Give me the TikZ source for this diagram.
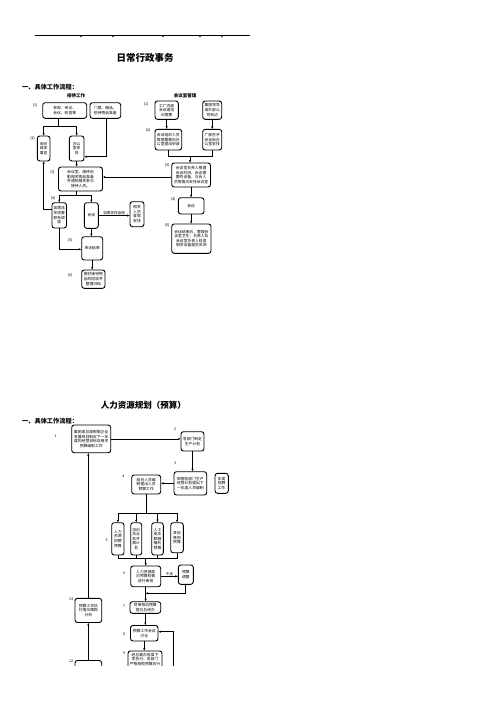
\documentclass[tikz,border=0pt]{standalone}
\usepackage{fontspec}
\newfontfamily\cjk{Noto Sans CJK SC}
\usetikzlibrary{arrows.meta,calc}
\tikzset{
  bx/.style={draw, line width=0.9pt, rounded corners=2.5pt, inner sep=0.3pt, align=center,
             font=\cjk\fontsize{3.8}{4.6}\selectfont},
  lab/.style={font=\cjk\fontsize{3.6}{4}\selectfont, inner sep=0.3pt},
  ttl/.style={font=\cjk\bfseries\fontsize{9.5}{10}\selectfont, inner sep=0},
  hdr/.style={font=\cjk\bfseries\fontsize{6.2}{7}\selectfont, inner sep=0, anchor=west},
  sub/.style={font=\cjk\bfseries\fontsize{4.5}{5}\selectfont, inner sep=0},
  ln/.style={line width=0.7pt},
  arr/.style={ln, -{Stealth[length=2.6pt,width=2.2pt]}},
}
\begin{document}
\begin{tikzpicture}[x=1pt,y=-1pt]
\useasboundingbox[fill=white] (0,0) rectangle (496,702);
\begin{scope}
\clip (0,0) rectangle (496,665);
% header rule
\draw[line width=0.8pt] (35,35.7) coordinate (h1) -- (250,35.7) coordinate (h2);
\foreach \xx in {81,113,163,200,222}{\fill (\xx,36.6) circle (0.8);}
\node[ttl] (t1) at (145,58) {日常行政事务};
\node[hdr] (hd1) at (22,87) {一、具体工作流程：};
\node[sub] (s1a) at (76,96) {接待工作};
\node[sub] (s1b) at (185,96) {会议室管理};

% ---- left chart
\node[bx, minimum width=44pt, minimum height=15.6pt] (A1) at (64.7,110.5) {参观、来访、\\会议、检查等};
\node[bx, minimum width=30.7pt, minimum height=15.6pt] (A1b) at (105.35,110.5) {门票、酬品、\\招待物品准备};
\node[bx, minimum width=12.7pt, minimum height=25pt] (A2a) at (43.65,148.5) {询问\\具体\\事宜};
\node[bx, minimum width=14.7pt, minimum height=25pt] (A2b) at (76.65,148.5) {办公\\室安\\排};
\node[bx, minimum width=44pt, minimum height=24pt] (A3) at (80.5,179) {会议室、接待后\\勤相关物品准备\\并通知相关参与\\接待人员。};
\node[bx, minimum width=14.5pt, minimum height=25.3pt] (A4a) at (59.25,215.35) {如需派\\车则要\\联系调\\度};
\node[bx, minimum width=14pt, minimum height=25.6pt] (A4b) at (91.3,215.5) {会议};
\node[bx, minimum width=14pt, minimum height=25pt] (A4c) at (137,214.2) {相关\\人员\\食宿\\安排};
\node[bx, minimum width=21pt, minimum height=23.3pt] (A5) at (92.2,248.35) {来访结束};
\node[bx, minimum width=23.3pt, minimum height=18.3pt] (A6) at (93.35,279.15) {做好接待物\\品的回收并\\整理归档};
\node[lab] (la1) at (35,105) {(1)};
\node[lab] (la2) at (32.7,138) {(2)};
\node[lab] (la3) at (52.5,172.7) {(3)};
\node[lab] (la4) at (53,198.5) {(4)};
\node[lab] (la5) at (70,240) {(5)};
\node[lab] (la6) at (70,275) {(6)};

\coordinate (sa) at (58.3,126.7);
\draw[ln] (sa |- A1.south) -- (sa);
\draw[arr] (sa) -| (A2a.north);
\draw[arr] (sa) -| (A2b.north);
\coordinate (ta) at (106.7,156.7);
\draw[arr] (ta |- A1b.south) -- (ta) -- (ta -| A2b.east);
\draw[arr] (A2b.south) -- (A2b.south |- A3.north);
\coordinate (sb) at (76,195);
\draw[ln] (sb |- A3.south) -- (sb);
\draw[arr] (sb) -| (A4a.north);
\draw[arr] (sb) -| (A4b.north);
\draw[arr] (A4b.east) -- (A4b.east -| A4c.west) node[midway, above, lab] {如需安排食宿};
\coordinate (ua) at (43.65,209.3);
\draw[arr] (ua -| A4a.west) -- (ua) -- (A2a.south);
\coordinate (ub) at (59.25,249.3);
\draw[arr] (A4a.south) -- (ub) -- (ub -| A5.west);
\draw[arr] (A4b.south) -- (A4b.south |- A5.north);
\draw[arr] (A5.south) -- (A5.south |- A6.north);

% ---- right chart
\node[bx, minimum width=23.3pt, minimum height=18.3pt] (B1) at (166.65,110.15) {工厂内部\\会议或培\\训需要};
\node[bx, minimum width=19pt, minimum height=18.3pt] (B1b) at (212.2,110.15) {集团领导\\或外部公\\司到访};
\node[bx, minimum width=26.7pt, minimum height=20.7pt] (B2) at (168.35,139.65) {会议组织人员\\根据需要向办\\公室提出申请};
\node[bx, minimum width=19pt, minimum height=20.7pt] (B2b) at (212.2,139.65) {厂部召开\\会议由办\\公室安排};
\node[bx, minimum width=38.8pt, minimum height=24pt] (B3) at (191.1,175) {会议室负责人根据\\会议时间、会议需\\要的设备，与会人\\员等情况安排会议室};
\node[bx, minimum width=25.7pt, minimum height=16.3pt] (B4) at (191.15,205.85) {会议};
\node[bx, minimum width=39.3pt, minimum height=29.3pt] (B5) at (191.35,238.65) {会议结束后，整理会\\议室卫生；负责人及\\会议室负责人检查\\相关设备是否关闭};
\node[lab] (lb1) at (146,104) {(1)};
\node[lab] (lb2) at (148,130.7) {(2)};
\node[lab] (lb3) at (167.2,165) {(3)};
\node[lab] (lb4) at (173,199) {(4)};
\node[lab] (lb5) at (167.2,225.7) {(5)};

\draw[arr] (B1.south) -- (B1.south |- B2.north);
\draw[arr] (B1b.south) -- (B1b.south |- B2b.north);
\coordinate (ma) at (190,156);
\draw[ln] (B2.south) -- (B2.south |- ma) -- (B2b.south |- ma) -- (B2b.south);
\draw[arr] (ma) -- (ma |- B3.north);
\draw[arr] ([yshift=-2pt]B3.west) -- ([yshift=-2pt]B3.west -| A3.east);
\draw[arr] (B3.south) -- (B3.south |- B4.north);
\draw[arr] (B4.south) -- (B4.south |- B5.north);

% ---- second page
\node[ttl, font=\cjk\bfseries\fontsize{8.5}{9}\selectfont] (t2) at (143.3,405) {人力资源规划（预算）};
\node[hdr] (hd2) at (22,420.7) {一、具体工作流程：};

\node[bx, minimum width=39pt, minimum height=27.7pt] (C1) at (91.2,438.85) {集团或总部根据企业\\发展规划制定下一年\\度的经营目标及相关\\预算编制工作};
\node[bx, minimum width=23pt, minimum height=19.3pt] (C2) at (192.5,441.35) {各部门制定\\生产计划};
\node[bx, minimum width=32.7pt, minimum height=23.3pt] (C3) at (190.35,483.35) {根据各部门生产\\经营计划提出下\\一年度人员编制};
\node[bx, minimum width=13.3pt, minimum height=20pt] (C3b) at (221.65,483.3) {年度\\招聘\\工作};
\node[bx, minimum width=29pt, minimum height=19pt] (C4) at (146.2,484.5) {结合人员编\\制提出人员\\预算工作};
\node[bx, minimum width=12.3pt, minimum height=32.3pt] (C5a) at (117.85,538.85) {人力\\资源\\招聘\\预算};
\node[bx, minimum width=11pt, minimum height=32.3pt] (C5b) at (136.2,538.85) {培训\\及业\\务开\\展计\\划};
\node[bx, minimum width=11.6pt, minimum height=32.3pt] (C5c) at (157.5,538.85) {人工\\成本\\薪酬\\福利\\预算};
\node[bx, minimum width=12.6pt, minimum height=30pt] (C5d) at (177,537.7) {其他\\费用\\预算};
\node[bx, minimum width=30pt, minimum height=20.7pt] (C6) at (145.7,576.35) {人力资源部\\对预算初稿\\进行审核};
\node[bx, minimum width=15pt, minimum height=19.3pt] (C6b) at (185.8,574.65) {预算\\调整};
\node[bx, minimum width=30.7pt, minimum height=11.6pt] (C7) at (145.35,607.5) {将审核后预算\\提交总经办};
\node[bx, minimum width=27.5pt, minimum height=15.5pt] (C8) at (144.25,633.25) {预算工作会议\\讨论};
\node[bx, minimum width=34pt, inner ysep=2pt, anchor=north] (C9) at (145,650.5) {经总裁办批准下\\发执行，各部门\\严格按照预算执行\\[30pt]\mbox{}};
\node[bx, minimum width=26.7pt, minimum height=24.2pt] (C13) at (88.35,610.4) {预算工作执\\行情况跟踪\\分析};
\node[bx, minimum width=26.7pt, minimum height=40pt, anchor=north] (C12) at (88.35,660) {};

\node[lab] (lc1) at (55.7,436.7) {1};
\node[lab] (lc2) at (175,429.3) {2};
\node[lab] (lc3) at (175,463.5) {3};
\node[lab] (lc4) at (123.3,476) {4};
\node[lab] (lc5) at (106.7,540) {5};
\node[lab] (lc6) at (124,573.3) {6};
\node[lab] (lc7) at (124,606.7) {7};
\node[lab] (lc8) at (124,634) {8};
\node[lab] (lc9) at (124,653) {9};
\node[lab] (lc13) at (71.2,599) {13};
\node[lab] (lc12) at (71.2,661) {12};

\draw[arr] (C1.east) -- (C1.east -| C2.west);
\draw[arr] (C2.south) -- (C2.south |- C3.north);
\draw[arr] (C3.west) -- (C3.west -| C4.east);
\coordinate (fa) at (146.2,513.3);
\draw[ln] (C4.south) -- (fa);
\draw[ln] (C5a.north |- fa) -- (C5d.north |- fa);
\foreach \nn in {C5a,C5b,C5c,C5d}{\draw[arr] (\nn.north |- fa) -- (\nn.north);}
\coordinate (fb) at (145.7,558.3);
\draw[ln] (C5a.south) -- (C5a.south |- fb) -- (C5d.south |- fb) -- (C5d.south);
\draw[ln] (C5b.south) -- (C5b.south |- fb);
\draw[ln] (C5c.south) -- (C5c.south |- fb);
\draw[arr] (fb) -- (C6.north);
\draw[arr] (C6.east) -- (C6.east -| C6b.west) node[midway, above, lab] {不足};
\coordinate (ra) at (185.8,593.3);
\draw[arr] (C6b.south) -- (ra) -- (ra -| C6.south);
\draw[arr] (C6.south) -- (C6.south |- C7.north);
\draw[arr] (C7.south) -- (C7.south |- C8.north);
\draw[arr] (C8.south) -- (C8.south |- C9.north);
\coordinate (rb) at (173.5,631.7);
\coordinate (rc) at (173.5,680);
\draw[arr] (rc) -- (rb) -- (rb -| C8.east);
\draw[arr] (C12.north) -- (C12.north |- C13.south);
\draw[arr] (C13.north) -- (C13.north |- C1.south);
\end{scope}
\end{tikzpicture}
\end{document}
